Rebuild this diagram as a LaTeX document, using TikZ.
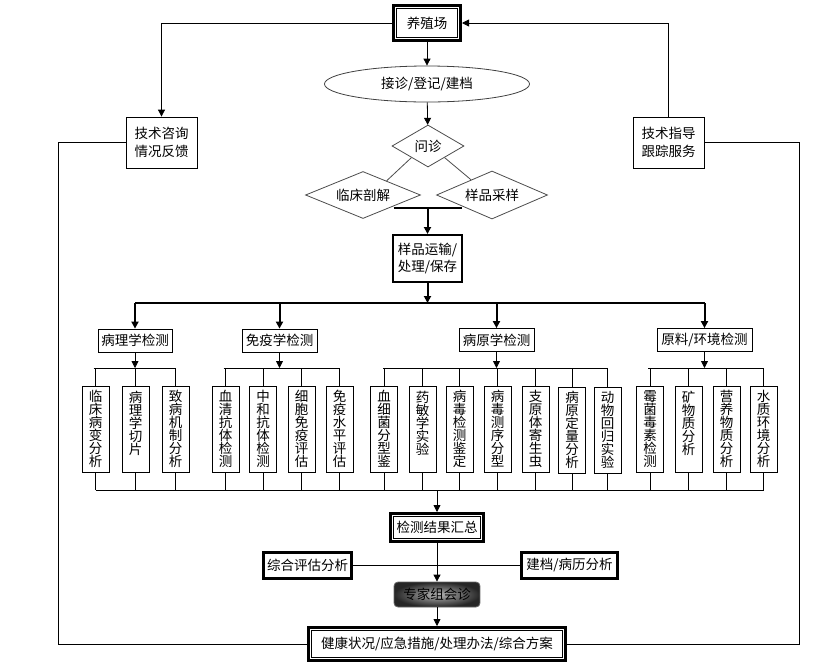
\documentclass[tikz,border=0pt]{standalone}
\usepackage{fontspec}
\newfontfamily\cjk{Noto Sans CJK SC}
\usepackage{tikz}
\usetikzlibrary{calc,arrows.meta,shapes.geometric}

\begin{document}
\begin{tikzpicture}[x=1pt,y=-1pt,line width=0.8pt,
        font=\cjk\fontsize{13.5}{13}\selectfont,
        >={Triangle[length=7pt,width=7pt]},
        box/.style={draw,fill=white,inner sep=2pt},
        dblbox/.style={box,line width=0.7pt,outer sep=4.5pt,
            preaction={draw,line width=9pt},
            postaction={draw=white,line width=3pt},
            postaction={draw,line width=0.7pt}},
        fatbox/.style={box,line width=3pt},
        dia/.style={diamond,draw=black!70,fill=white,inner sep=0pt},
        cat/.style={box,minimum height=23pt},
        leaf/.style={box,minimum width=27pt,minimum height=86pt,inner sep=1pt,align=center},
        twoline/.style={align=left,font=\cjk\fontsize{13.5}{17.5}\selectfont},
        thk/.style={line width=2pt}]
    \useasboundingbox (0,0) rectangle (831,665);

    % top part
    \node[dblbox,minimum width=61pt,minimum height=29pt] (yzc) at (427,23) {养殖场};
    \node[ellipse,draw=black!75,fill=white,minimum width=205pt,minimum height=36pt,inner sep=0pt] (jz) at (427,84) {接诊/登记/建档};
    \node[dia,aspect=1.7,minimum width=72pt,minimum height=42pt] (wz) at (428,146) {问诊};
    \node[dia,aspect=2.45,minimum width=115pt,minimum height=47pt] (lcpj) at (363,195) {临床剖解};
    \node[dia,aspect=2.3,minimum width=111pt,minimum height=48pt] (ypcy) at (492,195) {样品采样};
    \node[box,twoline,line width=2pt,minimum width=69pt,minimum height=47pt] (ypys) at (427.5,258.5) {样品运输/\\处理/保存};

    \node[box,twoline,minimum width=71pt,minimum height=51pt] (jszx) at (161.5,142.5) {技术咨询\\情况反馈};
    \node[box,twoline,minimum width=71pt,minimum height=51pt] (jszd) at (668.5,142.5) {技术指导\\跟踪服务};

    % categories
    \node[cat,minimum width=74pt] (blx) at (135,340.5) {病理学检测};
    \node[cat,minimum width=75pt] (myx) at (279.5,340.5) {免疫学检测};
    \node[cat,minimum width=75pt] (byx) at (496.5,340) {病原学检测};
    \node[cat,minimum width=95pt] (ylh) at (704.5,340) {原料/环境检测};

    % leaves
    \node[leaf] (b1) at (95.5,429) {临\\床\\病\\变\\分\\析};
    \node[leaf] (b2) at (135.5,429) {病\\理\\学\\切\\片\\~};
    \node[leaf] (b3) at (175.5,429) {致\\病\\机\\制\\分\\析};
    \node[leaf] (m1) at (225.5,429) {血\\清\\抗\\体\\检\\测};
    \node[leaf] (m2) at (263,429) {中\\和\\抗\\体\\检\\测};
    \node[leaf] (m3) at (301.5,429) {细\\胞\\免\\疫\\评\\估};
    \node[leaf] (m4) at (339.5,429) {免\\疫\\水\\平\\评\\估};
    \node[leaf] (p1) at (384,429) {血\\细\\菌\\分\\型\\鉴};
    \node[leaf] (p2) at (422.5,429) {药\\敏\\学\\实\\验\\~};
    \node[leaf] (p3) at (459.5,429) {病\\毒\\检\\测\\鉴\\定};
    \node[leaf] (p4) at (497.5,429) {病\\毒\\测\\序\\分\\型};
    \node[leaf] (p5) at (535.5,429) {支\\原\\体\\寄\\生\\虫};
    \node[leaf] (p6) at (572,430) {病\\原\\定\\量\\分\\析};
    \node[leaf] (p7) at (607.5,430) {动\\物\\回\\归\\实\\验};
    \node[leaf] (y1) at (650,429) {霉\\菌\\毒\\素\\检\\测};
    \node[leaf] (y2) at (688.5,429) {矿\\物\\质\\分\\析\\~};
    \node[leaf] (y3) at (726.5,429) {营\\养\\物\\质\\分\\析};
    \node[leaf] (y4) at (763.5,429) {水\\质\\环\\境\\分\\析};

    % bottom part
    \node[dblbox,minimum width=87pt,minimum height=22pt] (jcjg) at (437,527.5) {检测结果汇总};
    \node[fatbox,minimum width=88pt,minimum height=26pt] (zhpg) at (307.5,565.5) {综合评估分析};
    \node[fatbox,minimum width=96pt,minimum height=26pt] (jdbl) at (569.5,565.5) {建档/病历分析};
    \node[draw=black!60,rounded corners=4pt,inner color=black!28,outer color=black!85,
        minimum width=86pt,minimum height=25pt] (zjhz) at (437,594.5) {专家组会诊};
    \node[dblbox,minimum width=251pt,minimum height=27pt] (fa) at (437,644) {健康状况/应急措施/处理办法/综合方案};

    % connectors, top
    \draw[->] (yzc) -- (jz);
    \draw[->] (jz) -- (wz);
    \draw[black!70] (wz.215) -- (lcpj.31);
    \draw[black!70] (wz.325) -- (ypcy.144);
    \coordinate (mrg) at (427.5,208);
    \draw[thk] ($(mrg)+(-34,0)$) -- ($(mrg)+(34,0)$);
    \draw[thk,->] (mrg) -- (ypys);

    \draw[->] (yzc.west) -| (jszx.north);
    \draw[->] (jszd.north) |- (yzc.east);
    \draw (jszx.west) -- ++(-67,0) |- (fa.west);
    \draw (jszd.east) -- ++(95,0) |- (fa.east);

    % bus to categories
    \coordinate (bus) at (427.5,303);
    \draw[thk,->] (ypys) -- (bus);
    \draw[thk] (blx.north |- bus) -- (ylh.north |- bus);
    \foreach \c in {blx,myx,byx,ylh}
        \draw[thk,->] (\c.north |- bus) -- (\c.north);

    % categories to leaves
    \coordinate (sub) at (0,368);
    \draw[->] (blx) -- (blx |- sub);
    \draw[->] (myx) -- (myx |- sub);
    \draw[->] (byx) -- (byx |- sub);
    \draw[->] (ylh) -- (ylh |- sub);
    \draw ($(b1 |- sub)+(-2,0)$) -- (b3 |- sub);
    \draw ($(m1 |- sub)+(-2,0)$) -- (m4 |- sub);
    \draw ($(p1 |- sub)+(-1,0)$) -- (p7 |- sub);
    \draw ($(y1 |- sub)+(-2,0)$) -- (y4 |- sub);
    \foreach \l in {b1,b2,b3,m1,m2,m3,m4,p1,p2,p3,p4,p5,p6,p7,y1,y2,y3,y4}
        \draw (\l |- sub) -- (\l);

    % leaves to results
    \coordinate (low) at (437,490);
    \foreach \l in {b1,b2,b3,m1,m2,m3,m4,p1,p2,p3,p4,p5,p6,p7,y1,y2,y3,y4}
        \draw (\l) -- (\l |- low);
    \draw (b1 |- low) -- (y4 |- low);
    \draw[->] (low) -- (jcjg);

    \draw (zhpg) -- (jdbl);
    \draw[->] (jcjg) -- (zjhz);
    \draw[->] (zjhz) -- (fa);
\end{tikzpicture}
\end{document}
